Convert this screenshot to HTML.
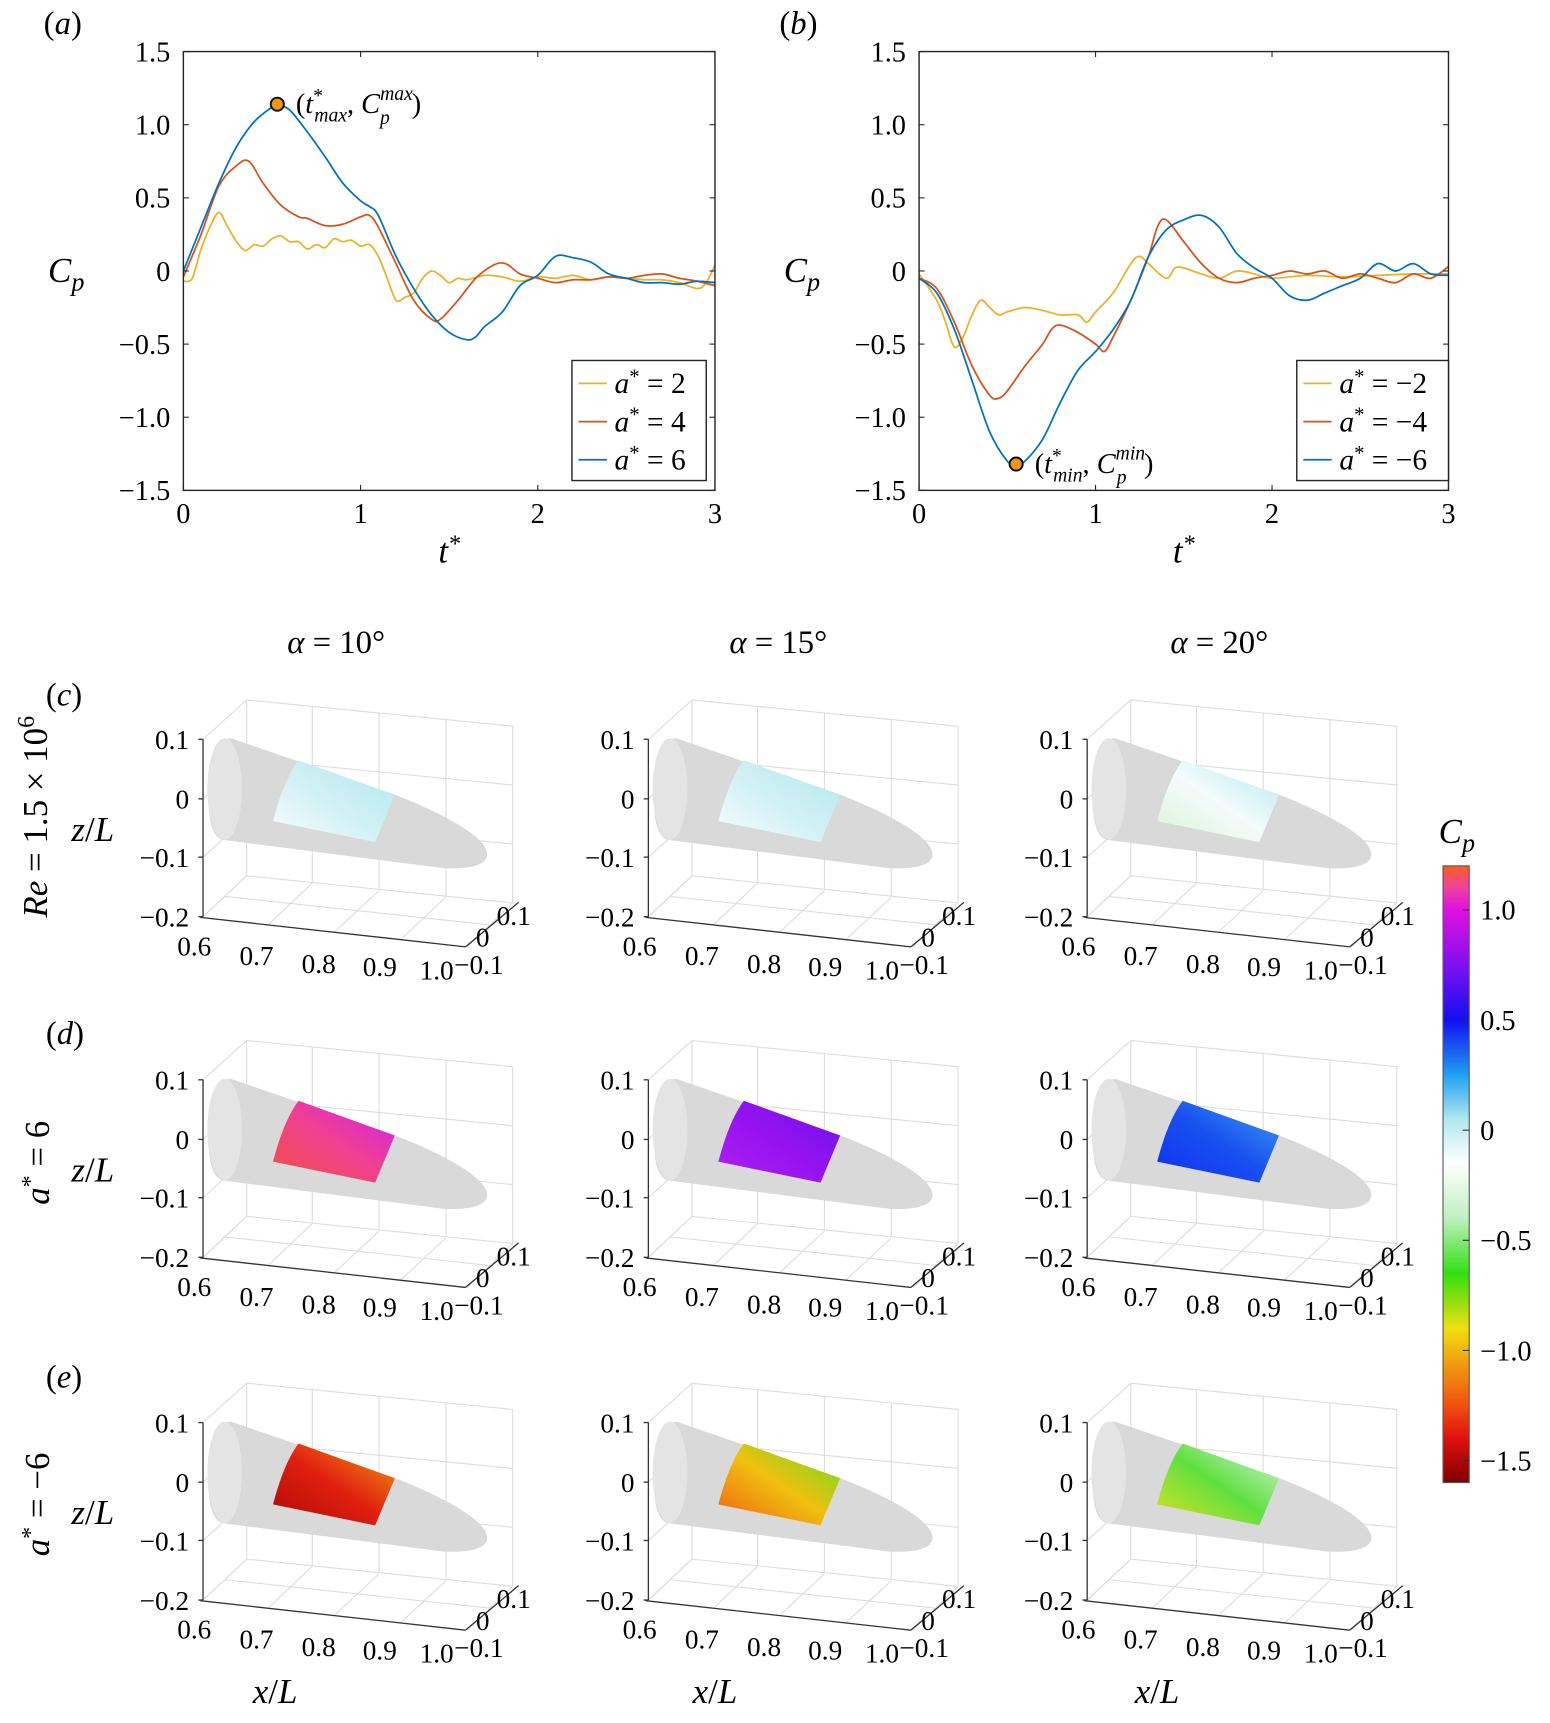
<!DOCTYPE html>
<html><head><meta charset="utf-8">
<style>
html,body{margin:0;padding:0;background:#fff;}
svg{display:block;font-family:"Liberation Serif",serif;}
</style></head>
<body>
<svg id="fig" width="1550" height="1723" viewBox="0 0 1420 1578" xmlns="http://www.w3.org/2000/svg">
<defs>
<linearGradient id="cbar" x1="0" y1="0" x2="0" y2="1">
<stop offset="0" stop-color="#f86020"/>
<stop offset="0.036" stop-color="#f040a0"/>
<stop offset="0.071" stop-color="#e010e0"/>
<stop offset="0.161" stop-color="#8010f0"/>
<stop offset="0.25" stop-color="#1010f0"/>
<stop offset="0.339" stop-color="#20a0f0"/>
<stop offset="0.411" stop-color="#b0e8f0"/>
<stop offset="0.482" stop-color="#ffffff"/>
<stop offset="0.571" stop-color="#c0f0c0"/>
<stop offset="0.661" stop-color="#30e010"/>
<stop offset="0.75" stop-color="#f0e010"/>
<stop offset="0.804" stop-color="#f0a010"/>
<stop offset="0.875" stop-color="#f05010"/>
<stop offset="0.929" stop-color="#e01010"/>
<stop offset="1" stop-color="#800000"/>
</linearGradient>
</defs>
<g id="topgroup"></g>
<g id="bottomgroup"></g>
</svg>
<script>
// ---- Data for panels (a) and (b) ----
const tA2 = [0,0.05,0.1,0.15,0.2,0.25,0.3,0.35,0.4,0.45,0.5,0.55,0.6,0.65,0.7,0.75,0.8,0.85,0.9,0.95,1.0,1.05,1.1,1.15,1.2,1.25,1.3,1.35,1.4,1.45,1.5,1.55,1.6,1.7,1.8,1.9,2.0,2.1,2.2,2.3,2.4,2.5,2.6,2.7,2.8,2.9,2.95,3.0];
const cpA2 = [-0.07,-0.05,0.15,0.3,0.4,0.3,0.2,0.14,0.18,0.17,0.22,0.24,0.2,0.2,0.15,0.18,0.16,0.22,0.2,0.21,0.17,0.18,0.1,-0.05,-0.2,-0.18,-0.15,-0.05,0,-0.03,-0.08,-0.05,-0.06,-0.03,-0.04,-0.07,-0.04,-0.05,-0.03,-0.06,-0.04,-0.05,-0.06,-0.06,-0.08,-0.12,-0.08,0.04];
const tA4 = [0,0.1,0.2,0.3,0.37,0.45,0.55,0.65,0.7,0.8,0.9,1.0,1.05,1.1,1.2,1.3,1.4,1.45,1.55,1.65,1.75,1.82,1.9,2.0,2.1,2.2,2.3,2.4,2.5,2.6,2.7,2.8,2.9,3.0];
const cpA4 = [-0.04,0.25,0.58,0.72,0.75,0.6,0.45,0.37,0.36,0.31,0.32,0.37,0.38,0.3,0.05,-0.2,-0.33,-0.33,-0.2,-0.05,0.04,0.05,-0.02,-0.05,-0.08,-0.06,-0.06,-0.04,-0.05,-0.03,-0.02,-0.05,-0.07,-0.1];
const tA6 = [0,0.1,0.2,0.3,0.4,0.5,0.53,0.6,0.7,0.8,0.9,1.0,1.05,1.1,1.2,1.3,1.4,1.5,1.6,1.65,1.7,1.8,1.9,2.0,2.1,2.2,2.3,2.4,2.5,2.6,2.7,2.8,2.9,3.0];
const cpA6 = [0,0.3,0.6,0.85,1.02,1.12,1.14,1.1,0.95,0.78,0.6,0.48,0.44,0.38,0.1,-0.12,-0.3,-0.42,-0.47,-0.45,-0.38,-0.28,-0.1,-0.03,0.1,0.09,0.06,-0.02,-0.05,-0.08,-0.08,-0.09,-0.07,-0.08];
const tB2 = [0,0.1,0.15,0.2,0.25,0.3,0.35,0.4,0.45,0.5,0.6,0.7,0.8,0.9,0.95,1.0,1.1,1.2,1.25,1.3,1.4,1.45,1.5,1.6,1.7,1.8,1.9,2.0,2.2,2.4,2.6,2.8,3.0];
const cpB2 = [-0.02,-0.2,-0.35,-0.52,-0.45,-0.3,-0.2,-0.25,-0.3,-0.28,-0.25,-0.27,-0.3,-0.3,-0.35,-0.28,-0.15,0.05,0.1,0.05,-0.05,0.02,0.02,-0.02,-0.05,0,-0.02,-0.05,-0.03,-0.04,-0.03,-0.02,-0.02];
const tB4 = [0,0.1,0.2,0.3,0.4,0.45,0.5,0.6,0.7,0.75,0.8,0.9,1.0,1.05,1.1,1.2,1.3,1.35,1.4,1.5,1.6,1.7,1.8,1.9,2.0,2.1,2.2,2.3,2.4,2.5,2.6,2.7,2.8,2.9,3.0];
const cpB4 = [-0.05,-0.12,-0.35,-0.65,-0.85,-0.87,-0.82,-0.65,-0.5,-0.4,-0.37,-0.42,-0.5,-0.55,-0.45,-0.2,0.1,0.3,0.35,0.2,0.05,-0.05,-0.08,-0.05,-0.03,0,-0.02,0,-0.05,-0.02,-0.05,-0.08,-0.02,-0.05,0.03];
const tB6 = [0,0.1,0.2,0.3,0.4,0.5,0.55,0.6,0.7,0.8,0.9,1.0,1.1,1.2,1.3,1.4,1.5,1.6,1.7,1.8,1.9,2.0,2.1,2.2,2.3,2.4,2.5,2.6,2.7,2.8,2.9,3.0];
const cpB6 = [-0.05,-0.15,-0.4,-0.75,-1.1,-1.3,-1.32,-1.3,-1.15,-0.9,-0.68,-0.55,-0.4,-0.2,0.1,0.28,0.35,0.38,0.3,0.12,0.02,-0.05,-0.17,-0.2,-0.15,-0.1,-0.05,0.05,0,0.05,-0.02,-0.03];
const markerA = [0.53, 1.14];
const markerB = [0.55, -1.32];
const yTicks = [1.5,1.0,0.5,0,-0.5,-1.0,-1.5];
const yTickLabels = ["1.5","1.0","0.5","0","\u22120.5","\u22121.0","\u22121.5"];
const xTicks = [0,1,2,3];
const xTickLabels = ["0","1","2","3"];
const colors = ["#EDB120","#D95319","#0072BD"];
const cbTicks = [1.0, 0.5, 0, -0.5, -1.0, -1.5];
const cbLabels = ["1.0", "0.5", "0", "\u22120.5", "\u22121.0", "\u22121.5"];

(function(){
const NS = "http://www.w3.org/2000/svg";
function mk(tag, attrs, parent, text){
  const e = document.createElementNS(NS, tag);
  for (const k in attrs) e.setAttribute(k, attrs[k]);
  if (text !== undefined) e.textContent = text;
  parent.appendChild(e);
  return e;
}
function smooth(pts){
  let d = 'M' + pts[0][0].toFixed(1) + ',' + pts[0][1].toFixed(1);
  for (let i = 0; i < pts.length - 1; i++){
    const p0 = pts[Math.max(0, i - 1)], p1 = pts[i], p2 = pts[i + 1], p3 = pts[Math.min(pts.length - 1, i + 2)];
    const c1 = [p1[0] + (p2[0] - p0[0]) / 6, p1[1] + (p2[1] - p0[1]) / 6];
    const c2 = [p2[0] - (p3[0] - p1[0]) / 6, p2[1] - (p3[1] - p1[1]) / 6];
    d += 'C' + c1[0].toFixed(1) + ',' + c1[1].toFixed(1) + ' ' + c2[0].toFixed(1) + ',' + c2[1].toFixed(1) + ' ' + p2[0].toFixed(1) + ',' + p2[1].toFixed(1);
  }
  return d;
}
const topG = document.getElementById('topgroup');

function drawPanel(L, R, label, series, legendLabels, marker, markerText){
  const T = 47, B = 449;
  const sx = v => L + (v - 0) / 3 * (R - L);
  const sy = v => T + (1.5 - v) / 3 * (B - T);
  const g = mk('g', {}, topG);
  
  
  const pl = mk('text', {x: L - 128, y: 31, 'font-size': 30}, g);
  
  
  pl.innerHTML = '(<tspan font-style="italic">' + label + '</tspan>)';
  series.forEach((s, i) => {
    const pts = s[0].map((t, j) => [sx(t), sy(s[1][j])]);
    const p = mk('path', {d: smooth(pts), fill: 'none', stroke: colors[i], 'stroke-width': 1.6, 'stroke-linejoin': 'round'}, g);
    
    
  });
  const box = mk('rect', {x: L, y: T, width: R - L, height: B - T, fill: 'none', stroke: '#262626', 'stroke-width': 1.3}, g);
  
  
  yTicks.forEach((v, i) => {
    mk('line', {x1: L, x2: L + 5, y1: sy(v), y2: sy(v), stroke: '#262626'}, g);
    mk('line', {x1: R, x2: R - 5, y1: sy(v), y2: sy(v), stroke: '#262626'}, g);
    const t = mk('text', {x: L - 12, y: sy(v) + 9, 'font-size': 26, 'text-anchor': 'end'}, g, yTickLabels[i]);
    
    
  });
  xTicks.forEach((v, i) => {
    mk('line', {x1: sx(v), x2: sx(v), y1: B, y2: B - 5, stroke: '#262626'}, g);
    mk('line', {x1: sx(v), x2: sx(v), y1: T, y2: T + 5, stroke: '#262626'}, g);
    const t = mk('text', {x: sx(v), y: B + 30, 'font-size': 26, 'text-anchor': 'middle'}, g, xTickLabels[i]);
    
    
  });
  const xt = mk('text', {x: (L + R) / 2, y: 515, 'font-size': 32, 'font-style': 'italic', 'text-anchor': 'middle'}, g);
  
  
  xt.innerHTML = 't<tspan dy="-10" font-size="22">*</tspan>';
  const yt = mk('text', {x: L - 124, y: 258, 'font-size': 32, 'font-style': 'italic'}, g);
  
  
  yt.innerHTML = 'C<tspan dy="8" font-size="24">p</tspan>';
  const mx = sx(marker[0]), my = sy(marker[1]);
  const c = mk('circle', {cx: mx, cy: my, r: 6, fill: '#F0960F', stroke: '#111', 'stroke-width': 1.8}, g);
  
  
  const mt = mk('text', {x: mx + 17, y: my + 8, 'font-size': 26}, g);
  
  
  mt.innerHTML = markerText;
  const lx = R - 131 + (label === 'b' ? -8 : 0), lw = label === 'b' ? 139 : 123;
  const lg = mk('g', {}, g);
  
  
  mk('rect', {x: lx, y: 330, width: lw, height: 110, fill: '#fff', stroke: '#262626', 'stroke-width': 1.3}, lg);
  legendLabels.forEach((txt, i) => {
    const y = 351 + i * 35;
    const e = mk('g', {}, lg);
    
    
    mk('line', {x1: lx + 6, x2: lx + 32, y1: y, y2: y, stroke: colors[i], 'stroke-width': 1.6}, e);
    const t = mk('text', {x: lx + 39, y: y + 9, 'font-size': 27}, e);
    t.innerHTML = '<tspan font-style="italic">a</tspan><tspan dy="-9" font-size="19">*</tspan><tspan dy="9"> = ' + txt + '</tspan>';
  });
}
drawPanel(168, 655, 'a', [[tA2, cpA2], [tA4, cpA4], [tA6, cpA6]], ['2', '4', '6'], markerA,
  '(<tspan font-style="italic">t</tspan><tspan font-size="18" dy="-10">*</tspan><tspan font-size="18" font-style="italic" dx="-8" dy="18">max</tspan><tspan dy="-8">, </tspan><tspan font-style="italic">C</tspan><tspan font-size="18" font-style="italic" dy="-12">max</tspan><tspan font-size="18" font-style="italic" dx="-30" dy="22">p</tspan><tspan dx="20" dy="-10">)</tspan>');
drawPanel(842, 1327, 'b', [[tB2, cpB2], [tB4, cpB4], [tB6, cpB6]], ['\u22122', '\u22124', '\u22126'], markerB,
  '(<tspan font-style="italic">t</tspan><tspan font-size="18" dy="-10">*</tspan><tspan font-size="18" font-style="italic" dx="-8" dy="18">min</tspan><tspan dy="-8">, </tspan><tspan font-style="italic">C</tspan><tspan font-size="18" font-style="italic" dy="-12">min</tspan><tspan font-size="18" font-style="italic" dx="-26" dy="22">p</tspan><tspan dx="16" dy="-10">)</tspan>');

// ---- 3D panels ----
const bottomG = document.getElementById('bottomgroup');
const colOffsets = [0, 408, 810];
const rowOffsets = [0, 312, 626];
const patchColors = [
  [["#f8fdfd", "#d0f0f4", "#b0e8ee"], ["#f8fdfd", "#d0f0f4", "#b0e8ee"], ["#d8f4d8", "#f4fbfb", "#b0e8ee"]],
  [["#f05040", "#f04090", "#d020f0"], ["#b020f0", "#9412f0", "#7010f0"], ["#1030f0", "#1850f0", "#40a0f0"]],
  [["#b00808", "#e02010", "#f0a010"], ["#f06010", "#f0c010", "#60e020"], ["#e0e020", "#60e040", "#d8f4d8"]]
];
const SX = 0.36, SY = 0.3;
function draw3D(r, c){
  const ox = 186 + colOffsets[c], oy = 677 + rowOffsets[r];
  const P = (x, y) => [ox + (x - 577) * SX, oy + (y - 188) * SY];
  const g = mk('g', {}, bottomG);
  
  
  const ln = (x1, y1, x2, y2, st) => { const a = P(x1, y1), b = P(x2, y2); return mk('line', Object.assign({x1: a[0], y1: a[1], x2: b[0], y2: b[1]}, st), g); };
  const grid = {stroke: '#dcdcdc', 'stroke-width': 1, fill: 'none'};
  [688, 855, 1025, 1195, 1365].forEach(x => {
    const f = (x - 688) / 677;
    ln(x, 68 + 80 * f, x, 605 + 83 * f, grid);
  });
  [[68,148],[248,328],[428,508],[605,688]].forEach(p => ln(688, p[0], 1365, p[1], grid));
  [[188,68],[370,248],[548,428],[730,605]].forEach(p => ln(577, p[0], 688, p[1], grid));
  ln(633, 668, 1308, 755, grid);
  [[577,730,688,605],[745,752,855,627],[913,775,1025,650],[1081,798,1195,671],[1250,822,1365,688]].forEach(p => ln(p[0], p[1], p[2], p[3], grid));
  const pathStr = (arr) => arr.map(s => typeof s === 'string' ? s : P(s[0], s[1]).map(v => v.toFixed(1)).join(',')).join(' ');
  const body = mk('path', {d: pathStr(['M',[648,185],'L',[1060,355],'C',[1200,420],[1300,490],[1300,540],'C',[1300,575],[1250,585],[1190,582],'L',[625,495],'C',[595,480],[590,420],[590,340],'C',[590,250],[610,185],[648,185],'Z']), fill: '#d9d9d9'}, g);
  
  
  const ec = P(632, 340);
  mk('ellipse', {cx: ec[0], cy: ec[1], rx: 44 * SX, ry: 155 * SY, fill: '#e4e4e4'}, g);
  const gid = 'pg' + r + c;
  const lgd = mk('linearGradient', {id: gid, x1: '0', y1: '1', x2: '1', y2: '0'}, g);
  patchColors[r][c].forEach((col, k) => mk('stop', {offset: String(k / 2), 'stop-color': col}, lgd));
  const patch = mk('path', {d: pathStr(['M',[820,252],'L',[1065,358],'L',[1015,502],'L',[755,438],'C',[770,370],[790,300],[820,252],'Z']), fill: 'url(#' + gid + ')'}, g);
  
  
  const ax = {stroke: '#333', 'stroke-width': 1.2, fill: 'none'};
  ln(577, 188, 577, 730, ax);
  ln(570, 732, 1245, 822, ax);
  ln(1245, 822, 1380, 686, ax);
  const zt = [[188,'0.1'],[370,'0'],[548,'\u22120.1'],[730,'\u22120.2']];
  zt.forEach(p => {
    ln(565, p[0], 577, p[0], ax);
    const q = P(550, p[0]);
    const t = mk('text', {x: q[0] - 3, y: q[1] + 9, 'font-size': 25, 'text-anchor': 'end'}, g, p[1]);
    
    
  });
  const xtk = [[-8,198,'0.6'],[49,207,'0.7'],[106,214,'0.8'],[162,217,'0.9'],[214,220,'1.0']];
  xtk.forEach(p => {
    const t = mk('text', {x: ox + p[0], y: oy + p[1], 'font-size': 25, 'text-anchor': 'middle'}, g, p[2]);
    
    
  });
  const ytk = [[269,170,'0.1'],[250,190,'0'],[230,215,'\u22120.1']];
  ytk.forEach(p => {
    const t = mk('text', {x: ox + p[0], y: oy + p[1], 'font-size': 25}, g, p[2]);
    
    
  });
}
for (let r = 0; r < 3; r++) for (let c = 0; c < 3; c++) draw3D(r, c);

function txt(x, y, size, html, name, extra){
  const t = mk('text', Object.assign({x: x, y: y, 'font-size': size}, extra || {}), bottomG);
  
  
  t.innerHTML = html;
  return t;
}
txt(308, 598, 30, '<tspan font-style="italic">α</tspan> = 10°', 'column-title-10', {'text-anchor': 'middle'});
txt(713, 598, 30, '<tspan font-style="italic">α</tspan> = 15°', 'column-title-15', {'text-anchor': 'middle'});
txt(1117, 598, 30, '<tspan font-style="italic">α</tspan> = 20°', 'column-title-20', {'text-anchor': 'middle'});
txt(42, 646, 30, '(<tspan font-style="italic">c</tspan>)', 'panel-label-c');
txt(42, 956, 30, '(<tspan font-style="italic">d</tspan>)', 'panel-label-d');
txt(42, 1271, 30, '(<tspan font-style="italic">e</tspan>)', 'panel-label-e');
txt(0, 0, 32, '<tspan font-style="italic">Re</tspan> = 1.5 × 10<tspan dy="-12" font-size="22">6</tspan>', 'row-label-re', {'text-anchor': 'middle', transform: 'translate(43,748) rotate(-90)'});
txt(0, 0, 32, '<tspan font-style="italic">a</tspan><tspan dy="-10" font-size="22">*</tspan><tspan dy="10"> = 6</tspan>', 'row-label-a6', {'text-anchor': 'middle', transform: 'translate(45,1065) rotate(-90)'});
txt(0, 0, 32, '<tspan font-style="italic">a</tspan><tspan dy="-10" font-size="22">*</tspan><tspan dy="10"> = −6</tspan>', 'row-label-am6', {'text-anchor': 'middle', transform: 'translate(45,1378) rotate(-90)'});
[770, 1082, 1396].forEach(y => txt(85, y, 32, '<tspan font-style="italic">z</tspan>/<tspan font-style="italic">L</tspan>', 'z-axis-title', {'text-anchor': 'middle'}));
[252, 655, 1060].forEach(x => txt(x, 1560, 32, '<tspan font-style="italic">x</tspan>/<tspan font-style="italic">L</tspan>', 'x-axis-title', {'text-anchor': 'middle'}));

const cbT = 793, cbB = 1358, cbMax = 1.2, cbMin = -1.6;
const cy = v => cbT + (cbMax - v) / (cbMax - cbMin) * (cbB - cbT);
const cb = mk('rect', {x: 1322, y: cbT, width: 24, height: cbB - cbT, fill: 'url(#cbar)', stroke: '#555', 'stroke-width': 1}, bottomG);


cbTicks.forEach((v, i) => {
  mk('line', {x1: 1340, x2: 1346, y1: cy(v), y2: cy(v), stroke: '#333'}, bottomG);
  const t = mk('text', {x: 1356, y: cy(v) + 9, 'font-size': 26}, bottomG, cbLabels[i]);
  
  
});
txt(1318, 772, 32, '<tspan font-style="italic">C</tspan><tspan dy="8" font-size="24" font-style="italic">p</tspan>', 'colorbar-title');
})();
</script>
</body></html>
